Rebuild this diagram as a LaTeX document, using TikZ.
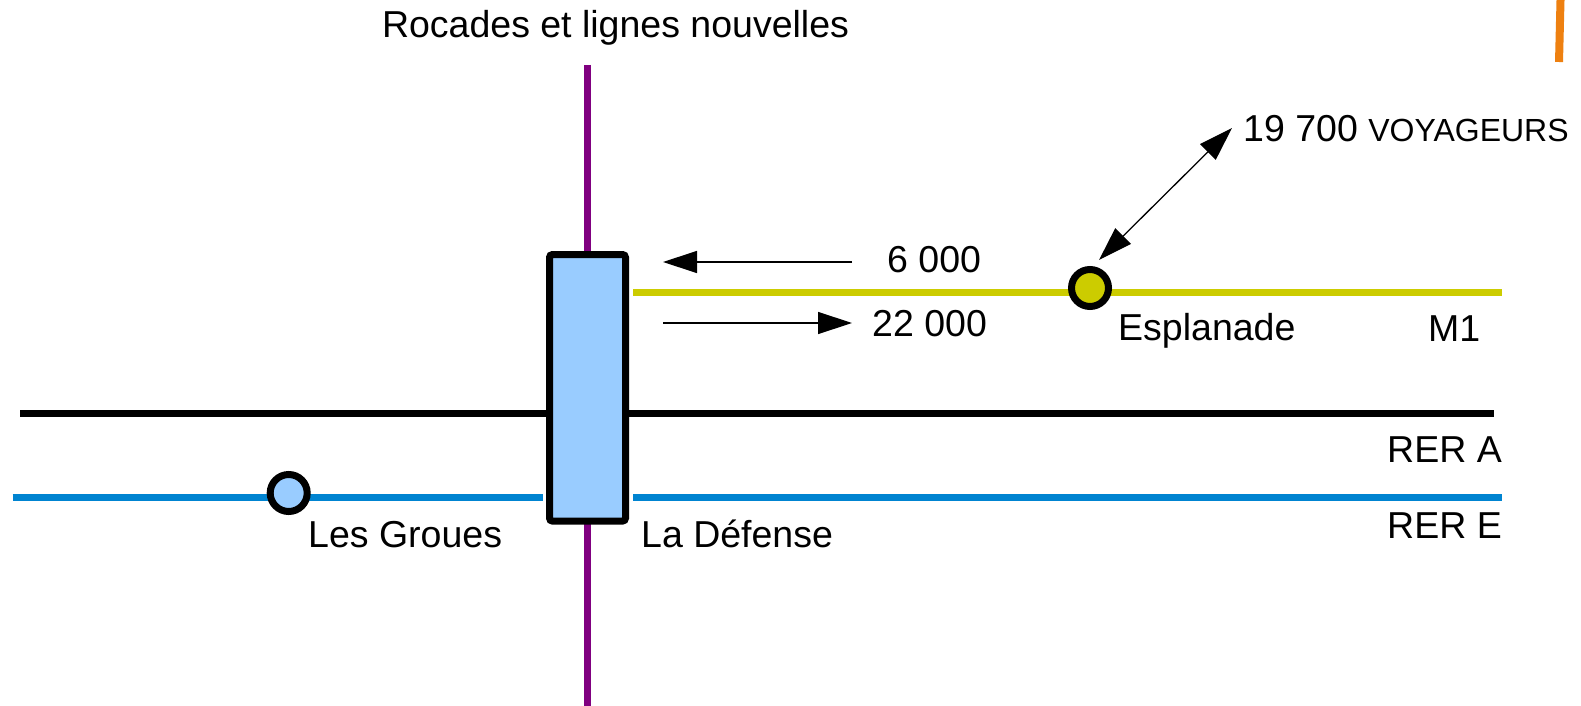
\documentclass[tikz,border=0pt]{standalone}
\usepackage{fontspec}
\setmainfont{Liberation Sans}
\usetikzlibrary{arrows.meta}
\definecolor{purp}{HTML}{800080}
\definecolor{mone}{HTML}{CCCC00}
\definecolor{rere}{HTML}{0084D1}
\definecolor{lightbl}{HTML}{99CCFF}
\definecolor{orng}{HTML}{EE8010}
\begin{document}
\begin{tikzpicture}[x=1pt,y=-1pt,
  lbl/.style={inner sep=0pt, font=\fontsize{37.5}{45}\selectfont},
  railline/.style={line width=7pt},
  station/.style={circle, draw=black, line width=7pt, minimum size=37pt, inner sep=0pt},
  flowarrow/.style={line width=1.3pt, -{Triangle[length=34pt,width=22pt]}},
  dflowarrow/.style={line width=1.3pt, {Triangle[length=34pt,width=22pt]}-{Triangle[length=34pt,width=22pt]}}]
\useasboundingbox (0,0) rectangle (1581,706);
\fill[white] (0,0) rectangle (1581,706);

% coordinates
\coordinate (ptop) at (587,65);
\coordinate (pbot) at (587,706);
\coordinate (aL) at (20,413);
\coordinate (aR) at (1494,413);
\coordinate (eL1) at (12.7,497);
\coordinate (eL2) at (542.5,497);
\coordinate (eR1) at (633,497);
\coordinate (eR2) at (1502,497);
\coordinate (mL) at (633,292.5);
\coordinate (mR) at (1502,292.5);
\coordinate (oT) at (1560.5,0);
\coordinate (oB) at (1559,62);

% lines
\draw[purp, railline] (ptop) -- (pbot);
\draw[black, railline] (aL) -- (aR);
\draw[rere, railline] (eL1) -- (eL2);
\draw[rere, railline] (eR1) -- (eR2);
\draw[mone, railline] (mL) -- (mR);
\draw[orng, line width=8pt] (oT) -- (oB);

% station box
\node[draw=black, fill=lightbl, line width=7pt, rounded corners=3pt,
      minimum width=76pt, minimum height=266.6pt, inner sep=0pt] (def) at (587.5,387.8) {};

% stations
\node[station, fill=lightbl] (groues) at (288.7,493) {};
\node[station, fill=mone] (espl) at (1090,288) {};

% texts
\node[lbl, anchor=base] (title) at (615.5,37.3) {Rocades et lignes nouvelles};
\node[lbl, anchor=base west] (t6) at (887,272) {6 000};
\node[lbl, anchor=base west] (t22) at (872,336) {22 000};
\node[lbl, anchor=base west] (tvoy) at (1243,142) {19 700 {\fontsize{32}{38}\selectfont VOYAGEURS}};
\node[lbl, anchor=base west] (tespl) at (1118,340) {Esplanade};
\node[lbl, anchor=base west] (tm1) at (1428,341) {M1};
\node[lbl, anchor=base east] (tra) at (1502,462) {RER A};
\node[lbl, anchor=base east] (tre) at (1502,538) {RER E};
\node[lbl, anchor=base west] (tgr) at (308,547) {Les Groues};
\node[lbl, anchor=base west] (tdef) at (641,547) {La Défense};

% arrows
\coordinate (a6s) at (852,262);
\coordinate (a6e) at (663,262);
\coordinate (a22s) at (663,323);
\coordinate (a22e) at (852,323);
\coordinate (dgs) at (1099,260);
\coordinate (dge) at (1232,128);
\draw[flowarrow] (a6s) -- (a6e);
\draw[flowarrow] (a22s) -- (a22e);
\draw[dflowarrow] (dgs) -- (dge);
\end{tikzpicture}
\end{document}
